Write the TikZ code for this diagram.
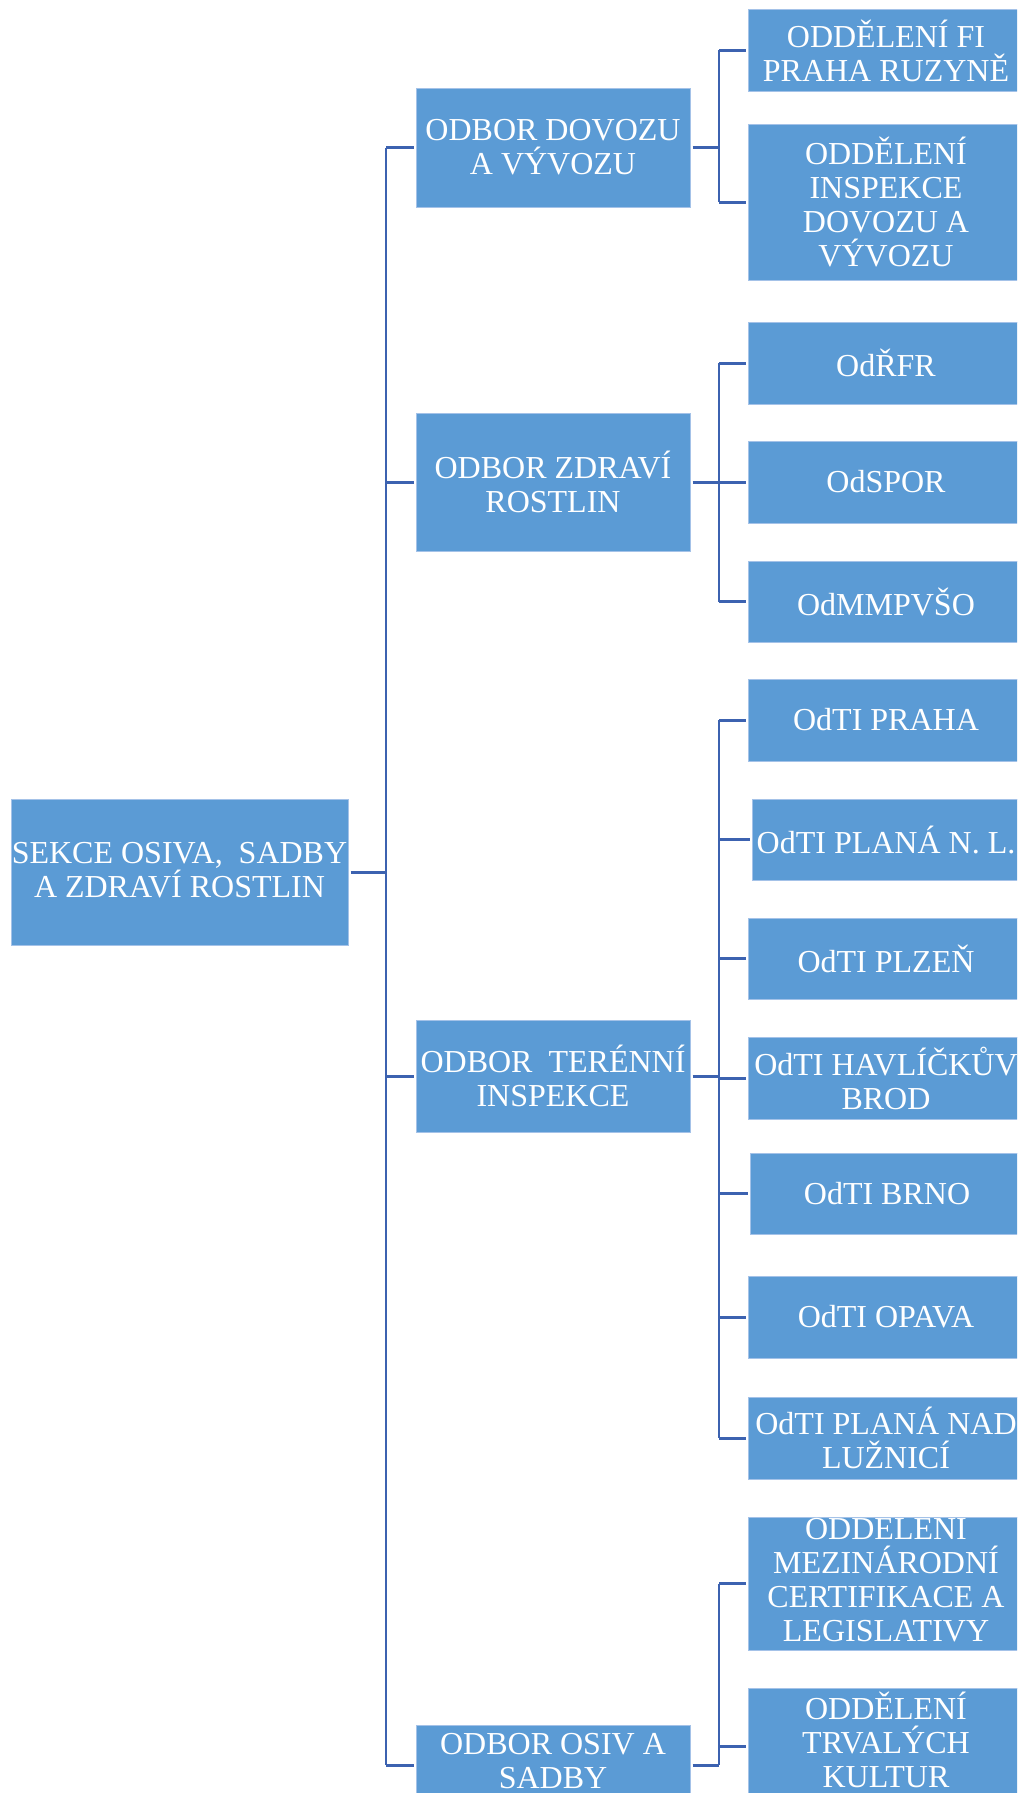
\documentclass[tikz,border=0pt]{standalone}
\usepackage{fontspec}
\setmainfont{Liberation Serif}
\definecolor{boxfill}{HTML}{5B9BD5}
\definecolor{boxedge}{HTML}{A4C2E8}
\definecolor{conn}{HTML}{3C62B0}
\tikzset{
  box/.style={rectangle, fill=boxfill, draw=boxedge, line width=1pt, inner sep=0pt,
    text=white, align=center, font={\fontsize{32}{34}\selectfont}},
  lvone/.style={box, minimum width=274pt},
  lvtwo/.style={box, minimum width=276pt},
  conn/.style={draw=conn, line width=3pt},
  bus/.style={draw=conn, line width=2.6pt},
  boxtext/.style={text=white, align=center, inner sep=0pt, font={\fontsize{32}{34}\selectfont}},
}
\begin{document}
\begin{tikzpicture}[x=1pt,y=-1pt]
\useasboundingbox (0,0) rectangle (1017,1793);
\fill[white] (0,0) rectangle (1017,1793);
\clip (0,0) rectangle (1017,1793);
% root
\node[box, minimum width=337pt, minimum height=146pt] (root) at (179.5,872) {};
\node[boxtext] (roott) at (179.5,870) {SEKCE OSIVA,\ \ SADBY\\A ZDRAVÍ ROSTLIN};
% level 2
\node[lvone, minimum height=119pt] (dov) at (553,147.5) {ODBOR DOVOZU\\A VÝVOZU};
\node[lvone, minimum height=138pt] (zdr) at (553,482) {ODBOR ZDRAVÍ\\ROSTLIN};
\node[lvone, minimum height=112pt] (ter) at (553,1076) {ODBOR\ \ TERÉNNÍ\\INSPEKCE};
\node[lvone, minimum height=80pt] (osiv) at (553,1765) {};
\node[boxtext] (osivt) at (553,1761) {ODBOR OSIV A\\SADBY};
% level 3
\node[lvtwo, minimum height=81pt] (fi) at (886,50.5) {ODDĚLENÍ FI\\PRAHA RUZYNĚ};
\node[lvtwo, minimum height=156pt] (insp) at (886,202) {ODDĚLENÍ\\INSPEKCE\\DOVOZU A\\VÝVOZU};
\node[lvtwo, minimum height=82pt] (rfr) at (886,363) {OdŘFR};
\node[lvtwo, minimum height=82pt] (spor) at (886,482) {OdSPOR};
\node[lvtwo, minimum height=81pt] (mmp) at (886,601.5) {OdMMPVŠO};
\node[lvtwo, minimum height=82pt] (praha) at (886,720) {OdTI PRAHA};
\node[lvtwo, minimum width=272pt, minimum height=81pt] (plna) at (888,839.5) {};
\node[boxtext] (plnat) at (886,839.5) {OdTI PLANÁ N. L.};
\node[lvtwo, minimum height=81pt] (plzen) at (886,958.5) {OdTI PLZEŇ};
\node[lvtwo, minimum height=82pt] (havl) at (886,1078) {};
\node[boxtext] (havlt) at (886,1078) {OdTI HAVLÍČKŮV\\BROD};
\node[lvtwo, minimum width=274pt, minimum height=81pt] (brno) at (887,1193.5) {OdTI BRNO};
\node[lvtwo, minimum height=82pt] (opava) at (886,1317) {OdTI OPAVA};
\node[lvtwo, minimum height=82pt] (plnad) at (886,1438) {};
\node[boxtext] (plnadt) at (886,1438) {OdTI PLANÁ NAD\\LUŽNICÍ};
\node[lvtwo, minimum height=133pt] (mez) at (886,1583.5) {};
\node[boxtext] (mezt) at (886,1577) {ODDĚLENÍ\\MEZINÁRODNÍ\\CERTIFIKACE A\\LEGISLATIVY};
\node[lvtwo, minimum height=116pt] (trv) at (886,1746) {};
\node[boxtext] (trvt) at (886,1740) {ODDĚLENÍ\\TRVALÝCH\\KULTUR};
% bus coordinates
\coordinate (b0) at (386,872);
\coordinate (b1) at (719,147.5);
\coordinate (b2) at (719,482);
\coordinate (b3) at (719,1076);
\coordinate (b4) at (719,1765);
% root to level 2
\draw[conn] ([xshift=2pt]root.east) -- (b0);
\draw[bus] (dov.west -| b0) -- (osiv.west -| b0);
\foreach \n in {dov,zdr,ter,osiv}{
  \draw[conn] (\n.west -| b0) -- ([xshift=-2pt]\n.west);
}
% group 1
\draw[conn] ([xshift=2pt]dov.east) -- (b1);
\draw[bus] (fi.west -| b1) -- (insp.west -| b1);
\foreach \n in {fi,insp}{ \draw[conn] (\n.west -| b1) -- ([xshift=-2pt]\n.west); }
% group 2
\draw[conn] ([xshift=2pt]zdr.east) -- (b2);
\draw[bus] (rfr.west -| b2) -- (mmp.west -| b2);
\foreach \n in {rfr,spor,mmp}{ \draw[conn] (\n.west -| b2) -- ([xshift=-2pt]\n.west); }
% group 3
\draw[conn] ([xshift=2pt]ter.east) -- (b3);
\draw[bus] (praha.west -| b3) -- (plnad.west -| b3);
\foreach \n in {praha,plna,plzen,havl,brno,opava,plnad}{ \draw[conn] (\n.west -| b3) -- ([xshift=-2pt]\n.west); }
% group 4
\draw[conn] ([xshift=2pt]osiv.east) -- (b4);
\draw[bus] (mez.west -| b4) -- (b4);
\foreach \n in {mez,trv}{ \draw[conn] (\n.west -| b4) -- ([xshift=-2pt]\n.west); }
\end{tikzpicture}
\end{document}
